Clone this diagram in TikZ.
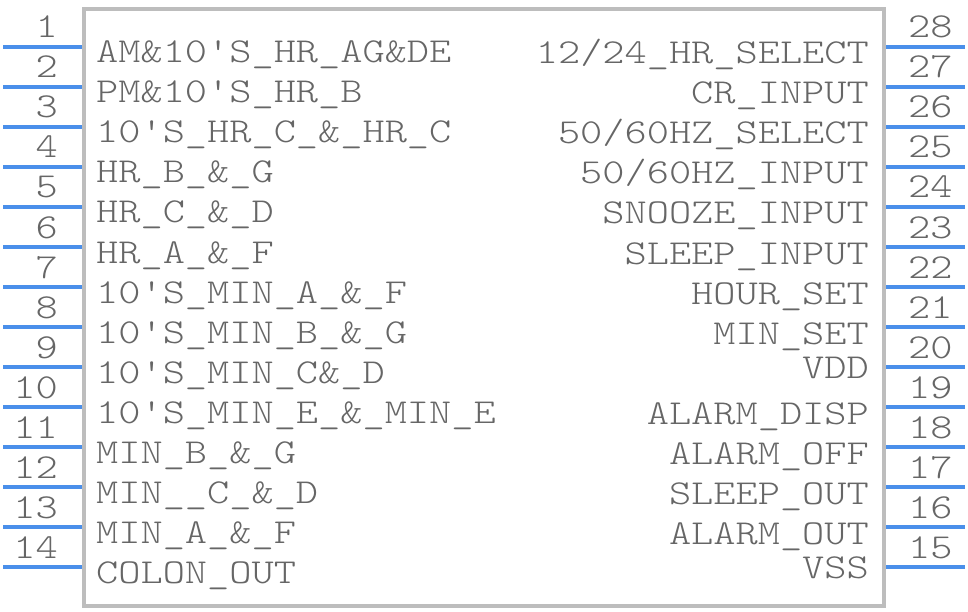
\documentclass[tikz,border=0pt]{standalone}
\usepackage{fontspec}
\usepackage{graphicx}
\newcommand{\pinfont}{\fontfamily{lmtt}\fontseries{l}\selectfont\fontsize{35}{40}\selectfont}
\newcommand{\ptxt}[1]{\scalebox{1.208}[1]{#1}}
\definecolor{txtgray}{HTML}{666666}
\definecolor{boxgray}{HTML}{BDBDBD}
\definecolor{pinblue}{HTML}{4A8FEA}
\tikzset{
  lbl/.style={inner sep=0pt, text=txtgray, font=\pinfont},
  pinline/.style={draw=pinblue, line width=4pt},
  body/.style={draw=boxgray, line width=4pt}
}
\newcommand{\qs}{\textquotesingle}
\begin{document}
\begin{tikzpicture}[x=1pt,y=-1pt]
\useasboundingbox (0,0) rectangle (968,612);
\draw[body] (84,9) rectangle (884,606);
% left pins
\foreach \n in {1,...,14}{
  \coordinate (L\n a) at (3,{47+40*(\n-1)});
  \coordinate (L\n b) at (82,{47+40*(\n-1)});
  \draw[pinline] (L\n a) -- (L\n b);
  \node[lbl, anchor=base east] (LN\n) at (58,{38+40*(\n-1)}) {\ptxt{\n}};
}
% right pins
\foreach \n in {28,27,...,15}{
  \coordinate (R\n a) at (886,{47+40*(28-\n)});
  \coordinate (R\n b) at (965,{47+40*(28-\n)});
  \draw[pinline] (R\n a) -- (R\n b);
  \node[lbl, anchor=base west] (RN\n) at (908,{38+40*(28-\n)}) {\ptxt{\n}};
}
% left labels
\foreach \t [count=\i] in {
  AM\&10\qs S\_HR\_AG\&DE,
  PM\&10\qs S\_HR\_B,
  10\qs S\_HR\_C\_\&\_HR\_C,
  HR\_B\_\&\_G,
  HR\_C\_\&\_D,
  HR\_A\_\&\_F,
  10\qs S\_MIN\_A\_\&\_F,
  10\qs S\_MIN\_B\_\&\_G,
  10\qs S\_MIN\_C\&\_D,
  10\qs S\_MIN\_E\_\&\_MIN\_E,
  MIN\_B\_\&\_G,
  MIN\_\_C\_\&\_D,
  MIN\_A\_\&\_F,
  COLON\_OUT}{
  \node[lbl, anchor=base west] (LT\i) at (96,{63+40*(\i-1)}) {\ptxt{\t}};
}
% right labels
\node[lbl, anchor=base east] (RT28) at (869,64) {\ptxt{12/24\_HR\_SELECT}};
\node[lbl, anchor=base east] (RT27) at (869,104) {\ptxt{CR\_INPUT}};
\node[lbl, anchor=base east] (RT26) at (869,144) {\ptxt{50/60HZ\_SELECT}};
\node[lbl, anchor=base east] (RT25) at (869,184) {\ptxt{50/60HZ\_INPUT}};
\node[lbl, anchor=base east] (RT24) at (869,224) {\ptxt{SNOOZE\_INPUT}};
\node[lbl, anchor=base east] (RT23) at (869,264) {\ptxt{SLEEP\_INPUT}};
\node[lbl, anchor=base east] (RT22) at (869,304) {\ptxt{HOUR\_SET}};
\node[lbl, anchor=base east] (RT21) at (869,344) {\ptxt{MIN\_SET}};
\node[lbl, anchor=base east] (RT20) at (869,378) {\ptxt{VDD}};
\node[lbl, anchor=base east] (RT19) at (869,424) {\ptxt{ALARM\_DISP}};
\node[lbl, anchor=base east] (RT18) at (869,464) {\ptxt{ALARM\_OFF}};
\node[lbl, anchor=base east] (RT17) at (869,504) {\ptxt{SLEEP\_OUT}};
\node[lbl, anchor=base east] (RT16) at (869,544) {\ptxt{ALARM\_OUT}};
\node[lbl, anchor=base east] (RT15) at (869,578) {\ptxt{VSS}};
\end{tikzpicture}
\end{document}
